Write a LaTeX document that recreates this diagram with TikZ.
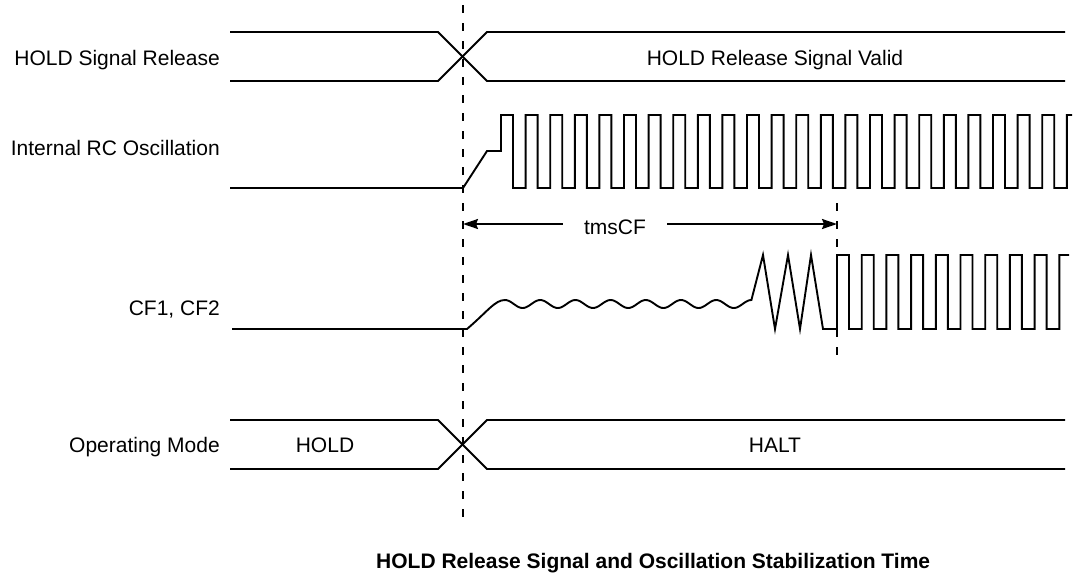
\documentclass[tikz,border=0pt]{standalone}
\usepackage{fontspec}
\setmainfont{Liberation Sans}
\usetikzlibrary{arrows.meta}
\begin{document}
\begin{tikzpicture}[x=1pt,y=-1pt,
  txt/.style={font=\fontsize{21}{25}\selectfont, inner sep=0pt},
  lbl/.style={txt, anchor=base east},
  ctr/.style={txt, anchor=base},
  sig/.style={line width=1.9pt, line join=miter},
  guide/.style={line width=1.9pt, dash pattern=on 8pt off 10pt},
  dimarrow/.style={line width=1.9pt, -{Stealth[length=15pt,width=10pt,inset=2pt]}}]
\useasboundingbox (0,0) rectangle (1073,579);

% labels
\node[lbl] (l1) at (220,65) {HOLD Signal Release};
\node[lbl] (l2) at (220,155) {Internal RC Oscillation};
\node[lbl] (l3) at (220,315) {CF1, CF2};
\node[lbl] (l4) at (220,452) {Operating Mode};

% guide lines
\coordinate (g1a) at (463,5);
\coordinate (g1b) at (463,520);
\draw[guide] (g1a) -- (g1b);
\coordinate (g2a) at (837,203);
\coordinate (g2b) at (837,360);
\draw[guide] (g2a) -- (g2b);

% HOLD Signal Release
\draw[sig] (230,32) -- (438,32) -- (487,81) -- (1065,81);
\draw[sig] (230,81) -- (438,81) -- (487,32) -- (1065,32);
\node[ctr] (valid) at (775,65) {HOLD Release Signal Valid};

% Internal RC oscillation
\draw[sig] (230,188) -- (463,188) -- (487,151) -- (501,151)
  \foreach \i in {0,...,22} {
    -- ({501+\i*24.6},115) -- ({513+\i*24.6},115)
    -- ({513+\i*24.6},188) -- ({525.6+\i*24.6},188)
  } -- (1066.8,115) -- (1072,115);

% tmsCF dimension
\coordinate (d1) at (463,224);
\coordinate (d2) at (837,224);
\node[ctr, inner xsep=21pt] (tms) at (615,234) {tmsCF};
\draw[dimarrow] (tms.west |- d1) -- (d1);
\draw[dimarrow] (tms.east |- d2) -- (d2);

% CF1, CF2
\draw[sig] (232,329) -- (467,329) .. controls (488,311) and (495,300) .. (505,300)
  \foreach \k in {1,...,140} {
    -- ({505+\k*1.76},{304-4*cos(\k*18)})
  }
  -- (763,255) -- (775,329) -- (788,255) -- (800,329) -- (811,255) -- (823,329)
  -- (837,329)
  \foreach \i in {0,...,8} {
    -- ({837+\i*24.7},255) -- ({849+\i*24.7},255)
    -- ({849+\i*24.7},329) -- ({861.7+\i*24.7},329)
  } -- (1059.3,255) -- (1069,255);

% Operating mode
\draw[sig] (230,420) -- (438,420) -- (487,469) -- (1065,469);
\draw[sig] (230,469) -- (438,469) -- (487,420) -- (1065,420);
\node[ctr] (hold) at (325,452) {HOLD};
\node[ctr] (halt) at (775,452) {HALT};

% caption
\node[txt, anchor=base west, font=\fontsize{21}{25}\selectfont\bfseries] (cap) at (376,568)
  {HOLD Release Signal and Oscillation Stabilization Time};
\end{tikzpicture}
\end{document}
